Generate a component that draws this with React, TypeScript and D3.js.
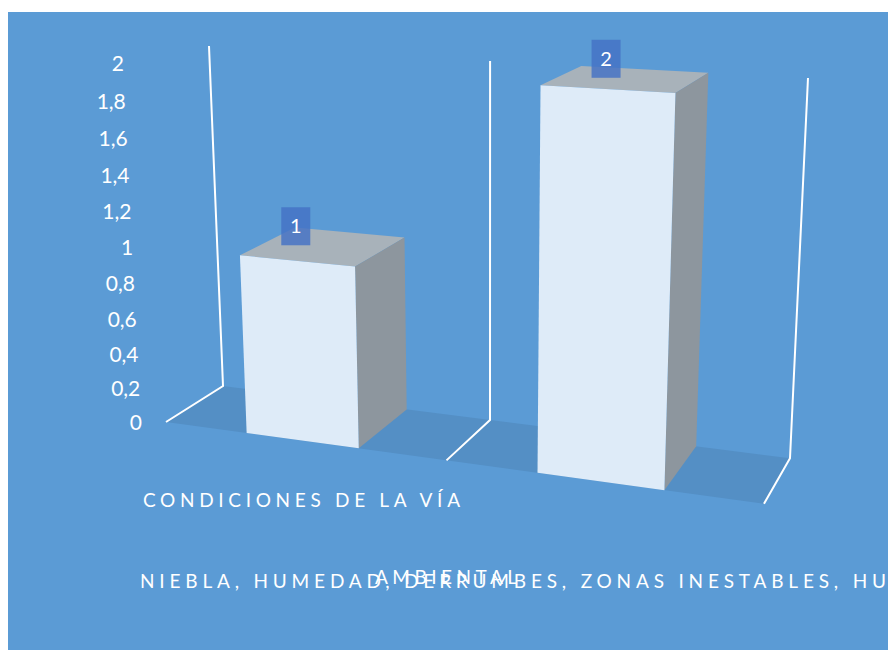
import React from "react";
import * as d3 from "d3";

// ---- data ----
const categories = ["CONDICIONES DE LA VÍA", "AMBIENTAL"];
const values = [1, 2];
const detailLabel = "NIEBLA, HUMEDAD, DERRUMBES, ZONAS INESTABLES, HU";
const yTicks = [0, 0.2, 0.4, 0.6, 0.8, 1, 1.2, 1.4, 1.6, 1.8, 2];
const yTickLabels = ["0", "0,2", "0,4", "0,6", "0,8", "1", "1,2", "1,4", "1,6", "1,8", "2"];
const valueLabels = ["1", "2"];

// ---- layout ----
const W = 888;
const H = 650;
const BG = "#5B9BD5";
const FONT = "Lato, 'Open Sans', sans-serif";

// perspective projection (world x = category units, y = value, z = depth 0 back .. 1 front)
const PA = [223, 240.05, -12.24, -66.4];
const PB = [386, 10.9, -171.15, 12.1];
const PC = [1, -0.055, -0.02506, -0.0566];
function project(x: number, y: number, z: number): [number, number] {
  const w = PC[0] + PC[1] * x + PC[2] * y + PC[3] * z;
  return [
    (PA[0] + PA[1] * x + PA[2] * y + PA[3] * z) / w,
    (PB[0] + PB[1] * x + PB[2] * y + PB[3] * z) / w,
  ];
}

const xBand = d3
  .scaleBand<string>()
  .domain(categories)
  .range([0, 2])
  .paddingInner(0.6)
  .paddingOuter(0.3);
const yScale = d3.scaleLinear().domain([0, 2]).range([0, 2]);
const zScale = d3.scaleLinear().domain([0, 1]).range([0, 1]);

const line = d3.line<[number, number]>();
const poly = (pts: [number, number, number][]) =>
  line(pts.map((p) => project(p[0], p[1], p[2]))) + "Z";

export default function App() {
  const yMax = yScale.domain()[1];
  const zBack = zScale(0);
  const zFront = zScale(1);
  const step = xBand.step();
  const boundaries = d3.range(categories.length + 1).map((i) => i * step);
  const xMax = boundaries[boundaries.length - 1];

  const floor = poly([
    [0, 0, zBack],
    [xMax, 0, zBack],
    [xMax, 0, zFront],
    [0, 0, zFront],
  ]);

  return (
    <svg
      width={W}
      height={H}
      style={{ position: "absolute", left: 0, top: 0 }}
      fontFamily={FONT}
    >
      <rect x={8} y={12} width={W - 8} height={H - 12} fill={BG} />
      <path d={floor} fill="#548FC5" />

      {boundaries.map((xb, i) => {
        const pts = [
          project(xb, 0, zFront),
          project(xb, 0, zBack),
          project(xb, yScale(yMax), zBack),
        ];
        return (
          <polyline
            key={"g" + i}
            points={pts.map((p) => p.join(",")).join(" ")}
            fill="none"
            stroke="#FFFFFF"
            strokeWidth={2}
          />
        );
      })}

      {categories.map((c, i) => {
        const x0 = xBand(c)!;
        const x1 = x0 + xBand.bandwidth();
        const y1 = yScale(values[i]);
        const top = poly([
          [x0, y1, zBack],
          [x1, y1, zBack],
          [x1, y1, zFront],
          [x0, y1, zFront],
        ]);
        const right = poly([
          [x1, 0, zBack],
          [x1, y1, zBack],
          [x1, y1, zFront],
          [x1, 0, zFront],
        ]);
        const front = poly([
          [x0, 0, zFront],
          [x1, 0, zFront],
          [x1, y1, zFront],
          [x0, y1, zFront],
        ]);
        return (
          <g key={"b" + i}>
            <path d={top} fill="#A8B2BA" />
            <path d={right} fill="#8D969E" />
            <path d={front} fill="#DEEBF8" />
          </g>
        );
      })}

      {categories.map((c, i) => {
        const xc = xBand(c)! + xBand.bandwidth() / 2;
        const y1 = yScale(values[i]);
        const cx = project(xc, y1, zFront)[0] - 1;
        const bottom = project(xc, y1, 0.5)[1] - 1;
        const bw = 29;
        const bh = 38;
        return (
          <g key={"l" + i}>
            <rect
              x={cx - bw / 2}
              y={bottom - bh}
              width={bw}
              height={bh}
              fill="#4472C4"
              fillOpacity={0.82}
            />
            <text
              x={cx}
              y={bottom - bh / 2}
              dy="0.35em"
              textAnchor="middle"
              fill="#FFFFFF"
              fontSize={20}
            >
              {valueLabels[i]}
            </text>
          </g>
        );
      })}

      {yTicks.map((t, i) => {
        const [u, v] = project(0, yScale(t), zFront);
        return (
          <text
            key={"t" + i}
            x={u - 24}
            y={v + 1}
            dy="0.35em"
            textAnchor="end"
            fill="#FFFFFF"
            fontSize={21}
          >
            {yTickLabels[i]}
          </text>
        );
      })}

      <text
        x={143}
        y={507}
        fill="#FFFFFF"
        fontSize={19}
        textLength={317}
        lengthAdjust="spacing"
      >
        {categories[0]}
      </text>
      <text
        x={140}
        y={588}
        fill="#FFFFFF"
        fontSize={19}
        textLength={746}
        lengthAdjust="spacing"
      >
        {detailLabel}
      </text>
      <text
        x={375}
        y={584}
        fill="#FFFFFF"
        fontSize={19}
        textLength={142}
        lengthAdjust="spacing"
      >
        {categories[1]}
      </text>
    </svg>
  );
}
